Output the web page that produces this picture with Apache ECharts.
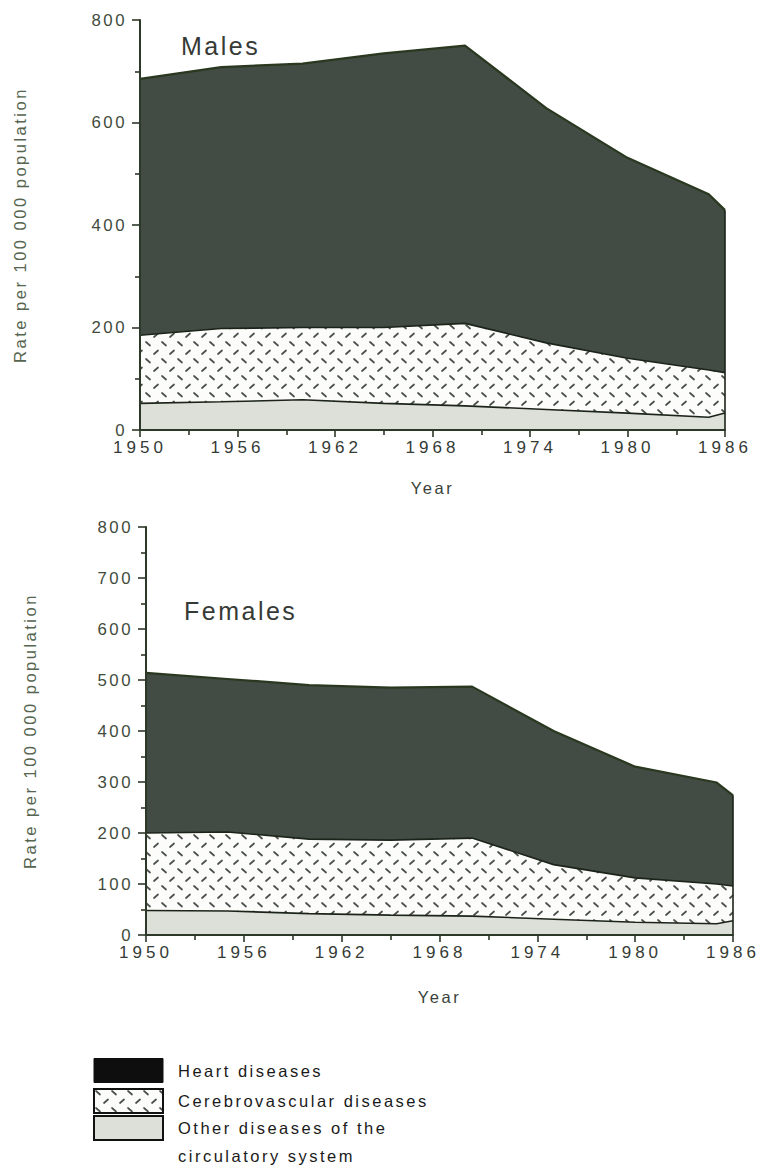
<!DOCTYPE html>
<html>
<head>
<meta charset="utf-8">
<script src="https://cdn.jsdelivr.net/npm/echarts@6/dist/echarts.min.js"></script>
<style>
  html, body { margin: 0; padding: 0; background: #ffffff; }
  #chart { width: 763px; height: 1170px; }
  /* wide tracking of the printed labels */
  #chart svg text { letter-spacing: 2.5px; }
  #chart svg text[style*="17px"] { letter-spacing: 4px; }
</style>
</head>
<body>
<div id="chart"></div>
<script>
// Years sampled along the x axis
const years = [1950, 1955, 1960, 1965, 1970, 1975, 1980, 1985, 1986];

// Death rates per 100 000 population, males
const maleHeart    = [500, 510, 515, 535, 542, 458, 391, 343, 317];
const maleCerebro  = [133, 143, 141, 148, 161, 130, 107,  92,  79];
const maleOther    = [ 52,  55,  59,  52,  47,  40,  33,  25,  33];

// Death rates per 100 000 population, females
const femaleHeart   = [314, 300, 302, 299, 297, 262, 218, 199, 178];
const femaleCerebro = [152, 155, 146, 147, 153, 107,  87,  78,  68];
const femaleOther   = [ 48,  47,  42,  39,  37,  31,  25,  22,  28];

// Series names and panel titles
const causeNames = ['Heart diseases', 'Cerebrovascular diseases', 'Other diseases of the circulatory system'];
const panelTitles = ['Males', 'Females'];

// Axis ticks
const yearTicks = [1950, 1986, 6];       // min, max, step
const maleRateTicks = [0, 800, 200];
const femaleRateTicks = [0, 800, 100];

const FONT = '"Liberation Sans", Arial, Helvetica, sans-serif';
const AXIS = '#2c3828';
const EDGE = '#1c241a';
const HEART_FILL = '#424b44';
const OTHER_FILL = '#dde0d9';

// Dashed zig-zag fill for the cerebrovascular band
function dashTile() {
  const c = document.createElement('canvas');
  c.width = 16; c.height = 17;
  const g = c.getContext('2d');
  g.fillStyle = '#fcfcfa';
  g.fillRect(0, 0, 16, 17);
  g.strokeStyle = '#4a504a';
  g.lineWidth = 1.7;
  g.lineCap = 'round';
  g.beginPath();
  g.moveTo(2, 2); g.lineTo(6, 5.5);       // "\"
  g.moveTo(10, 14); g.lineTo(14, 10.5);   // "/"
  g.stroke();
  return c.toDataURL();
}
const dashFill = { image: dashTile(), repeat: 'repeat', imageWidth: 16, imageHeight: 17 };

// Running totals: each band is drawn as an area from zero up to its
// cumulative top, larger totals underneath, so the bands read as a stack.
const sumOf = (...lists) => years.map((_, i) => lists.reduce((s, l) => s + l[i], 0));
const pairs = vals => years.map((y, i) => [y, vals[i]]);

function panelSeries(axisIndex, heart, cerebro, other) {
  const last = years.length - 1;
  const total = sumOf(heart, cerebro, other);
  const lower = sumOf(cerebro, other);
  const common = {
    type: 'line', xAxisIndex: axisIndex, yAxisIndex: axisIndex,
    symbol: 'none', silent: true, animation: false
  };
  return [
    Object.assign({}, common, {
      name: causeNames[0], data: pairs(total), z: 2,
      lineStyle: { color: '#2a3820', width: 2.2 },
      areaStyle: { color: HEART_FILL, opacity: 1, origin: 'start' }
    }),
    Object.assign({}, common, {
      name: causeNames[1], data: pairs(lower), z: 3,
      lineStyle: { color: EDGE, width: 1.6 },
      areaStyle: { color: dashFill, opacity: 1, origin: 'start' }
    }),
    Object.assign({}, common, {
      name: causeNames[2], data: pairs(other), z: 4,
      lineStyle: { color: EDGE, width: 1.6 },
      areaStyle: { color: OTHER_FILL, opacity: 1, origin: 'start' },
      markLine: {
        silent: true, symbol: 'none', animation: false,
        label: { show: false },
        lineStyle: { color: EDGE, width: 1.6, type: 'solid' },
        data: [[{ coord: [years[last], 0] }, { coord: [years[last], total[last]] }]]
      }
    })
  ];
}

function xAxisFor(i, gap) {
  return {
    type: 'value', gridIndex: i,
    min: yearTicks[0], max: yearTicks[1], interval: yearTicks[2],
    name: 'Year', nameLocation: 'middle', nameGap: gap,
    nameTextStyle: { fontSize: 16.5, color: '#39433a', fontFamily: FONT },
    axisLine: { show: true, onZero: false, lineStyle: { color: AXIS, width: 2 } },
    axisTick: { show: true, length: 7, lineStyle: { color: AXIS, width: 1.6 } },
    minorTick: { show: true, splitNumber: 2, length: 5, lineStyle: { color: AXIS, width: 1.6 } },
    axisLabel: {
      margin: 9, fontSize: 17, color: '#353b35', fontFamily: FONT,
      showMinLabel: true, showMaxLabel: true, formatter: v => String(v)
    },
    splitLine: { show: false }, minorSplitLine: { show: false },
    z: 5
  };
}

function yAxisFor(i, ticks, gap) {
  return {
    type: 'value', gridIndex: i,
    min: ticks[0], max: ticks[1], interval: ticks[2],
    name: 'Rate per 100 000 population', nameLocation: 'middle', nameGap: gap,
    nameTextStyle: { fontSize: 16.5, color: '#56654f', fontFamily: FONT },
    axisLine: { show: true, onZero: false, lineStyle: { color: AXIS, width: 2 } },
    axisTick: { show: true, length: 8, lineStyle: { color: AXIS, width: 1.6 } },
    minorTick: { show: true, splitNumber: 2, length: 5, lineStyle: { color: AXIS, width: 1.6 } },
    axisLabel: {
      margin: 13, fontSize: 16.8, color: '#3f4b3d', fontFamily: FONT,
      showMinLabel: true, showMaxLabel: true, formatter: v => String(v)
    },
    splitLine: { show: false }, minorSplitLine: { show: false },
    z: 5
  };
}

const legendText = { fontSize: 16.5, color: '#1a1a1a', fontFamily: FONT, padding: [0, 0, 0, 10] };

const option = {
  animation: false,
  backgroundColor: '#ffffff',
  textStyle: { fontFamily: FONT },
  title: [
    { text: panelTitles[0], left: 181, top: 33, padding: 0,
      textStyle: { fontSize: 25, fontWeight: 'normal', color: '#363a36', fontFamily: FONT } },
    { text: panelTitles[1], left: 184, top: 598, padding: 0,
      textStyle: { fontSize: 25, fontWeight: 'normal', color: '#363a36', fontFamily: FONT } }
  ],
  grid: [
    { left: 140, top: 20, width: 585, height: 410, containLabel: false, outerBoundsMode: 'none' },
    { left: 146, top: 527, width: 587, height: 408, containLabel: false, outerBoundsMode: 'none' }
  ],
  xAxis: [xAxisFor(0, 49), xAxisFor(1, 53)],
  yAxis: [yAxisFor(0, maleRateTicks, 112), yAxisFor(1, femaleRateTicks, 108)],
  legend: [
    {
      orient: 'vertical', left: 93, top: 1058, padding: 0,
      itemWidth: 69, itemHeight: 24, itemGap: 5, icon: 'rect',
      selectedMode: false, textStyle: legendText,
      data: [
        { name: causeNames[0], itemStyle: { color: '#0e0e0e', borderColor: '#0e0e0e', borderWidth: 1 } },
        { name: causeNames[1], itemStyle: { color: dashFill, borderColor: '#111111', borderWidth: 2 } }
      ]
    },
    {
      orient: 'vertical', left: 93, top: 1086, padding: 0,
      itemWidth: 69, itemHeight: 24, icon: 'rect',
      selectedMode: false,
      textStyle: Object.assign({}, legendText, { lineHeight: 28 }),
      formatter: () => '\nOther diseases of the\ncirculatory system',
      data: [
        { name: causeNames[2], itemStyle: { color: OTHER_FILL, borderColor: '#111111', borderWidth: 2 } }
      ]
    }
  ],
  series: [].concat(
    panelSeries(0, maleHeart, maleCerebro, maleOther),
    panelSeries(1, femaleHeart, femaleCerebro, femaleOther)
  )
};

const chart = echarts.init(document.getElementById('chart'), null, { renderer: 'svg', width: 763, height: 1170 });
chart.setOption(option);
</script>
</body>
</html>
